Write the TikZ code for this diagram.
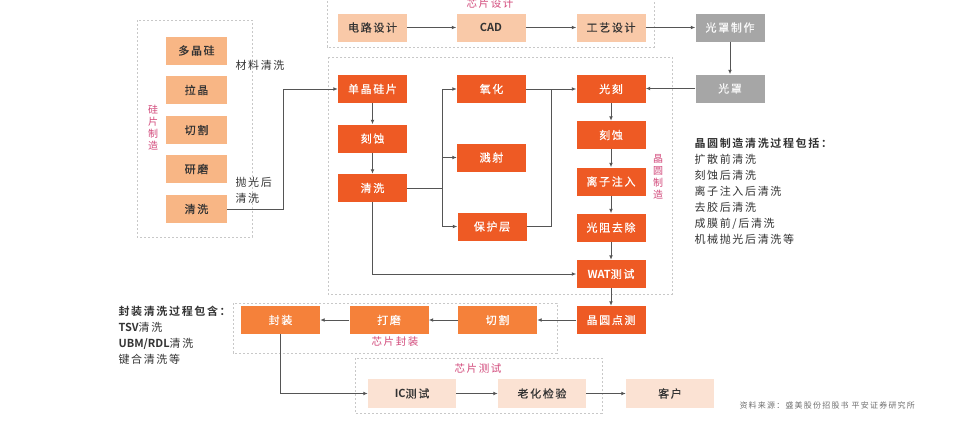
\documentclass[tikz,border=0pt]{standalone}
\usepackage{fontspec}
\setmainfont{Noto Sans CJK SC}[LetterSpace=15, BoldFont={Noto Sans CJK SC Bold}]
\newfontfamily\boxf{Noto Sans CJK SC}[LetterSpace=15, FakeBold=0.5]
\newfontfamily\latf{Noto Sans CJK SC Bold}[LetterSpace=0]
\usetikzlibrary{arrows.meta,calc}
\definecolor{dkor}{HTML}{EE5A24}
\definecolor{mdor}{HTML}{F5813A}
\definecolor{ltor}{HTML}{F8B685}
\definecolor{peach}{HTML}{F9C9A8}
\definecolor{pale}{HTML}{FBE2D3}
\definecolor{gry}{HTML}{A6A6A6}
\definecolor{pinkt}{HTML}{D2487A}
\definecolor{txt}{HTML}{333333}
\definecolor{lnc}{HTML}{555555}
\definecolor{dashc}{HTML}{C8C8C8}
\definecolor{srcc}{HTML}{707070}
\tikzset{
  box/.style={minimum width=69pt, minimum height=28pt, inner sep=0pt, font=\fontsize{11}{13}\boxf},
  wafer/.style={box, fill=dkor, text=white},
  si/.style={box, minimum width=61pt, fill=ltor, text=txt},
  design/.style={box, fill=peach, text=txt},
  pack/.style={box, minimum width=79pt, fill=mdor, text=white},
  testb/.style={box, minimum width=88pt, minimum height=29pt, fill=pale, text=txt},
  mask/.style={box, fill=gry, text=white!92!gry},
  arr/.style={draw=lnc, line width=1pt, -{Latex[length=4.5pt,width=3.8pt]}},
  lin/.style={draw=lnc, line width=1pt},
  grp/.style={draw=dashc, line width=0.9pt, dash pattern=on 2.2pt off 1.8pt},
  ttl/.style={text=pinkt, font=\fontsize{10.5}{12}\selectfont},
  vttl/.style={text=pinkt, align=center, font=\fontsize{10}{12}\selectfont},
  note/.style={text=txt, font=\fontsize{11}{16}\selectfont},
  lst/.style={text=txt, align=left, font=\fontsize{11}{16}\selectfont},
}
\begin{document}
\begin{tikzpicture}[x=1pt,y=-1pt]
\useasboundingbox (0,0) rectangle (960,423);
\fill[white] (0,0) rectangle (960,423);
% group frames
\draw[grp] (327,-3) rectangle (654,47);
\draw[grp] (137,20) rectangle (252,237);
\draw[grp] (328,57) rectangle (672,294);
\draw[grp] (233,303) rectangle (557,353);
\draw[grp] (355,358) rectangle (602,413);
% titles
\node[ttl] (tdesign) at (490,4) {芯片设计};
\node[ttl] (tpack) at (395,342) {芯片封装};
\node[ttl] (ttest) at (478,369) {芯片测试};
\node[vttl] (tsi) at (153,128) {硅\\片\\制\\造};
\node[vttl] (twafer) at (658,177) {晶\\圆\\制\\造};
% chip design
\node[design] (d1) at (372.5,27.5) {电路设计};
\node[design] (d2) at (491,27.5) {\latf CAD};
\node[design] (d3) at (611,27.5) {工艺设计};
\node[mask] (m1) at (730,27.5) {光罩制作};
\node[mask] (m2) at (730,88.5) {光罩};
% silicon wafer
\node[si] (s1) at (196.5,50.5) {多晶硅};
\node[si] (s2) at (196.5,90) {拉晶};
\node[si] (s3) at (196.5,130) {切割};
\node[si] (s4) at (196.5,169) {研磨};
\node[si] (s5) at (196.5,209) {清洗};
\node[note, anchor=west] (n1) at (232,65) {材料清洗};
\node[note, anchor=west, align=left] (n2) at (232,190) {抛光后\\清洗};
% wafer fab
\node[wafer] (w1) at (372.5,89) {单晶硅片};
\node[wafer] (w2) at (372.5,138.5) {刻蚀};
\node[wafer] (w3) at (372.5,188) {清洗};
\node[wafer] (ox) at (491.5,89) {氧化};
\node[wafer] (sp) at (491.5,157.5) {溅射};
\node[wafer] (pr) at (492,226.5) {保护层};
\node[wafer] (g1) at (611,89) {光刻};
\node[wafer] (g2) at (611,135) {刻蚀};
\node[wafer] (g3) at (611,181.5) {离子注入};
\node[wafer] (g4) at (611,227.5) {光阻去除};
\node[wafer] (g5) at (611,274) {{\latf WAT}测试};
\node[wafer] (dp) at (611,320) {晶圆点测};
% packaging
\node[pack] (p1) at (497.5,320) {切割};
\node[pack] (p2) at (389,320) {打磨};
\node[pack] (p3) at (280.5,320) {封装};
% testing
\node[testb] (t1) at (412,393.5) {{\latf IC}测试};
\node[testb] (t2) at (542,393.5) {老化检验};
\node[testb] (t3) at (670,393.5) {客户};
% notes
\node[lst, anchor=north west] (l1) at (691,135) {\bfseries 晶圆制造清洗过程包括：\\扩散前清洗\\刻蚀后清洗\\离子注入后清洗\\去胶后清洗\\成膜前/后清洗\\机械抛光后清洗等};
\node[lst, anchor=north west] (l2) at (115,303) {\bfseries 封装清洗过程包含：\\{\latf TSV}清洗\\{\latf UBM/RDL}清洗\\键合清洗等};
\node[text=srcc, anchor=west, font=\fontsize{8}{10}\selectfont\itshape] (src) at (736,405) {资料来源：盛美股份招股书 平安证券研究所};
% connectors
\draw[arr] (d1) -- (d2);
\draw[arr] (d2) -- (d3);
\draw[arr] (d3) -- (m1);
\draw[arr] (m1) -- (m2);
\draw[arr] (m2.west) -- (g1.east |- m2.west);
\draw[arr] (s5.east) -- ++(56,0) |- (w1.west);
\draw[arr] (w1) -- (w2);
\draw[arr] (w2) -- (w3);
\draw[lin] (w3.east) -- ++(35,0) coordinate (br);
\draw[arr] (br) |- (ox.west);
\draw[arr] (br) |- (sp.west);
\draw[arr] (br) |- (pr.west);
\draw[arr] (ox) -- (g1);
\draw[lin] (pr.east) -| ($(ox.east)!0.5!(g1.west)$);
\draw[arr] (g1) -- (g2);
\draw[arr] (g2) -- (g3);
\draw[arr] (g3) -- (g4);
\draw[arr] (g4) -- (g5);
\draw[arr] (w3.south) |- (g5.west);
\draw[arr] (g5) -- (dp);
\draw[arr] (dp) -- (p1);
\draw[arr] (p1) -- (p2);
\draw[arr] (p2) -- (p3);
\draw[arr] (p3.south) |- (t1.west);
\draw[arr] (t1) -- (t2);
\draw[arr] (t2) -- (t3);
\end{tikzpicture}
\end{document}
